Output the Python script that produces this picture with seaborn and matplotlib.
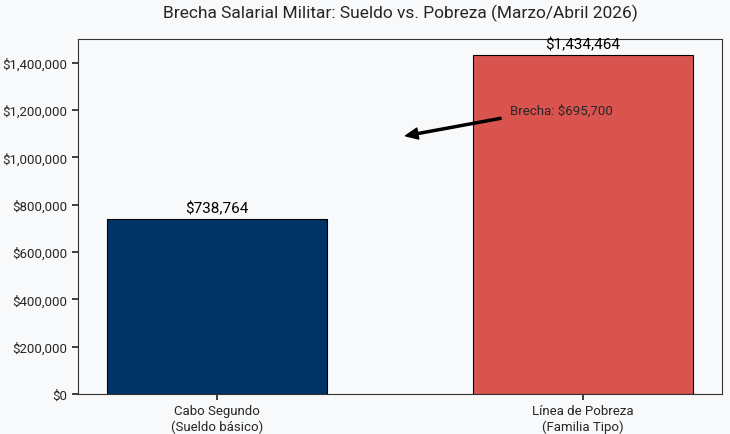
import matplotlib
matplotlib.use("Agg")
import matplotlib.pyplot as plt
import seaborn as sns
from matplotlib.ticker import FuncFormatter

categories = ["Cabo Segundo\n(Sueldo básico)", "Línea de Pobreza\n(Familia Tipo)"]
values = [738764, 1434464]
bar_colors = ["#003366", "#d9534f"]
gap = values[1] - values[0]

sns.set_theme(style="white")
plt.rcParams["font.family"] = ["Roboto", "DejaVu Sans"]

fig, ax = plt.subplots(figsize=(7.3, 4.35), dpi=100)
fig.patch.set_facecolor("#f8f9fa")
ax.set_facecolor("#f8f9fa")

sns.barplot(x=categories, y=values, hue=categories, palette=bar_colors,
            saturation=1, width=0.6, edgecolor="black", linewidth=0.8,
            legend=False, ax=ax)
ax.set_xlim(-0.38, 1.38)
ax.set_ylim(0, 1.5e6)

for i, v in enumerate(values):
    ax.text(i, v + 15000, f"${v:,.0f}", ha="center", va="bottom",
            fontsize=11, color="black")

ax.annotate(f"Brecha: ${gap:,.0f}",
            xy=(0.5, (values[0] + values[1]) / 2),
            xytext=(0.8, 1.2e6), fontsize=9.5, va="center",
            arrowprops=dict(facecolor="black", edgecolor="black",
                            shrink=0.05, width=1.5, headwidth=8,
                            headlength=9))

ax.yaxis.set_major_formatter(FuncFormatter(lambda y, _: f"${y:,.0f}"))
ax.set_title("Brecha Salarial Militar: Sueldo vs. Pobreza (Marzo/Abril 2026)",
             fontsize=12.5, pad=16)
ax.tick_params(axis="both", labelsize=9.5, length=4, left=True, bottom=True)
for s in ax.spines.values():
    s.set_color("#333333")
    s.set_linewidth(0.8)

fig.subplots_adjust(left=0.107, right=0.989, top=0.908, bottom=0.092)
fig.savefig("out.png", dpi=100, facecolor=fig.get_facecolor())
